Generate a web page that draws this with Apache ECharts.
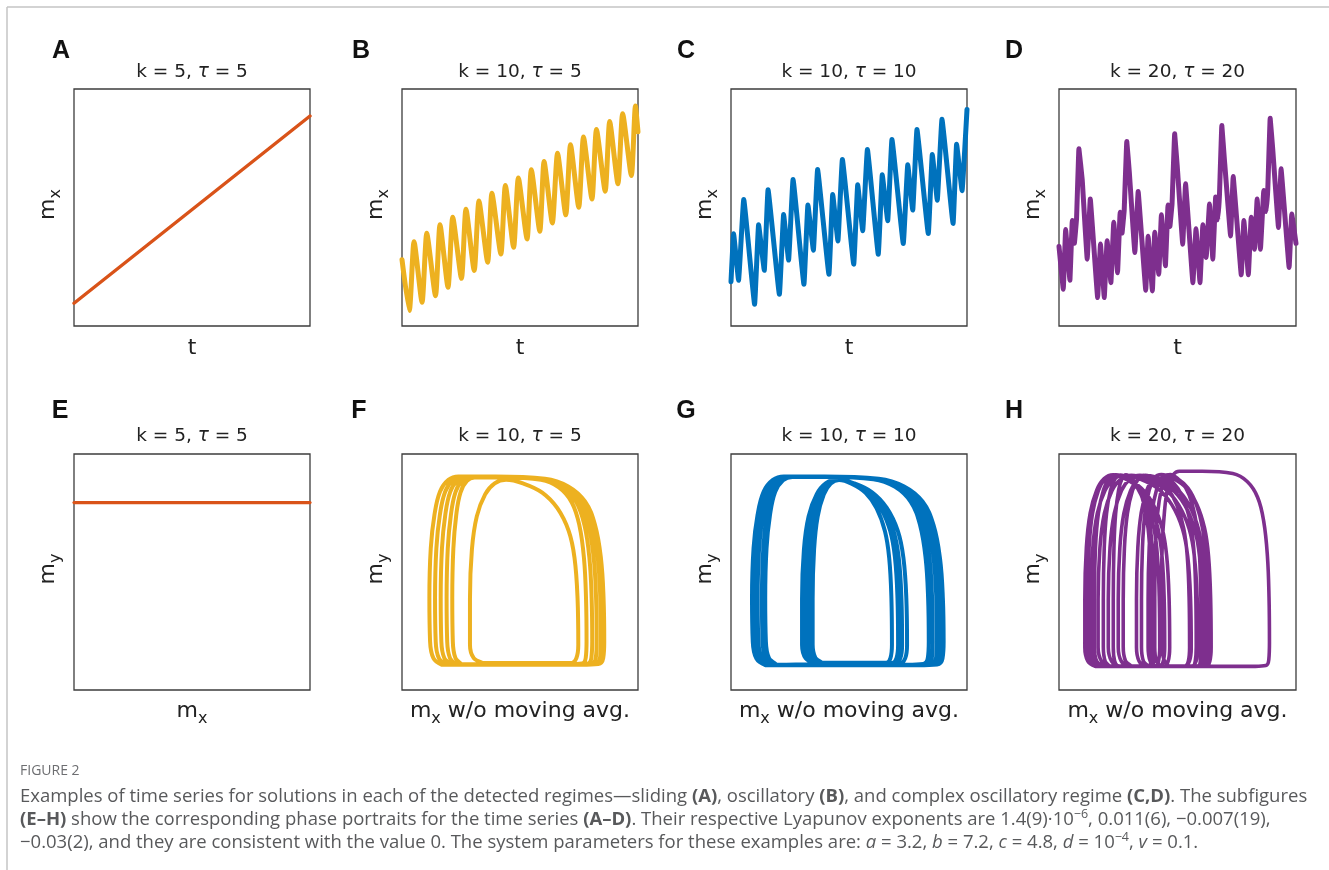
<!DOCTYPE html>
<html><head><meta charset="utf-8">
<script src="https://cdn.jsdelivr.net/npm/echarts@6/dist/echarts.min.js"></script>
<style>html,body{margin:0;padding:0;background:#fff}#c{width:1329px;height:870px}</style>
</head><body><div id="c"></div><script>
// ---------- DATA (arbitrary 0-100 units per panel) ----------
const A_t  = [0, 100];
const A_mx = [9.6, 88.6];

const B_t  = [0,3.1,5.1,8.5,10.5,14.2,16.1,19.5,21.5,25.2,27.1,30.6,32.6,36.3,38.1,41.9,43.8,47.3,49.3,53.0,54.8,58.4,60.2,63.7,65.9,69.4,71.4,74.9,76.9,80.5,82.4,86.1,88.0,91.5,93.5,97.2,98.9,100];
const B_mx = [28,6.5,35.6,10,39.1,12.8,42.7,16.3,45.9,20.1,49.3,23.4,52.7,26.9,56.0,30.4,59.3,33.2,62.5,36.7,65.9,40.0,69.4,43.5,72.9,46.9,76.5,50.1,79.7,53.6,82.9,56.9,86.3,60.0,89.6,63.5,92.8,82];

const C_t  = [0,1.1,3.2,5.4,10.0,11.7,14.1,15.7,20.5,22.3,24.4,26.3,30.9,32.6,34.9,36.7,41.5,43.1,45.3,47.2,52.0,53.7,55.8,57.8,62.4,64.1,66.4,68.2,73.0,74.9,77.0,78.8,83.6,85.3,87.4,89.4,94.1,95.6,97.9,100];
const C_mx = [18.7,38.9,19.3,53.4,9.2,42.7,23.5,57.5,13.4,47.0,27.8,61.8,17.6,51.1,32.0,66.0,21.8,55.5,35.9,70.3,26.1,59.6,40.2,74.5,30.3,63.8,44.4,78.7,34.8,68.0,48.9,82.9,39.0,72.4,53.1,87.2,43.3,76.7,57.1,91.4];

const D_t  = [0,1.8,2.8,4.6,5.6,6.5,7.4,8.4,9.8,11.9,13.2,16.3,17.5,19.1,20.3,21.9,23.1,24.7,25.8,26.6,27.5,28.6,29.7,32.0,33.4,36.6,37.6,39.4,40.4,42.1,43.2,44.9,46.0,46.8,47.7,48.8,49.9,52.2,53.4,56.5,57.8,59.5,60.7,62.1,63.5,64.9,66.1,67.0,67.7,68.7,69.8,72.4,73.5,76.9,78.0,79.9,81.1,82.5,83.6,85.0,86.4,87.4,88.1,89.1,90.2,92.6,93.7,97.1,98.2,100];
const D_mx = [33.5,15.5,40.7,19.3,44.5,34.9,45.2,74.8,61.7,28.2,53.6,12.0,34.6,12.0,36.0,18.3,43.8,22.5,48.0,39.2,48.7,77.9,64.5,31.0,56.7,15.1,37.9,14.8,39.6,21.8,46.9,25.4,51.1,42.0,51.5,81.1,67.3,34.5,60.0,18.3,41.0,18.3,42.7,28.9,51.5,28.2,54.4,44.8,55.1,84.6,70.1,38.0,63.1,21.6,44.5,21.6,45.9,32.4,53.6,32.4,57.2,48.3,57.9,87.7,74.4,41.6,66.3,24.7,47.3,34.9];

const E_mx = [0, 100];
const E_my = [79.4, 79.4];

// loop outlines (normalised within one loop's extent)
const WIDE_U = [0.07,0.023,0.004,0,0.008,0.029,0.061,0.109,0.166,0.377,0.661,0.794,0.89,0.947,0.981,0.996,1.0,0.994,0.966,0.87];
const WIDE_V = [0,0.035,0.124,0.354,0.619,0.796,0.92,0.982,1.0,1.0,0.988,0.947,0.867,0.743,0.566,0.354,0.124,0.035,0.004,0];
const ARCH_U = [0.123,0.035,0,0,0.018,0.063,0.14,0.228,0.333,0.49,0.667,0.807,0.912,0.965,0.993,1.0,0.982,0.93];
const ARCH_V = [0,0.027,0.1,0.35,0.62,0.8,0.92,0.98,1.0,0.98,0.93,0.845,0.72,0.575,0.355,0.1,0.027,0];

// per-loop extents (left, right, top, bottom) and outline type
const F_left   = [11.6,14.0,16.4,18.9,21.3,28.8];
const F_right  = [85.7,84.3,82.5,80.6,78.2,74.7];
const F_top    = [90.5,90.4,90.3,90.2,90.0,89.1];
const F_bottom = [10.7,10.7,10.8,10.8,10.9,11.4];
const F_shape  = ['w','w','w','w','w','a'];

const G_left   = [8.9,10.0,11.3,13.1,14.5,30.1,31.5,32.9,34.6];
const G_right  = [90.1,88.7,87.3,85.5,83.8,74.6,72.5,70.8,68.2];
const G_top    = [90.5,90.5,90.4,90.4,90.3,89.2,89.1,89.1,89.0];
const G_bottom = [10.5,10.5,10.6,10.6,10.7,11.3,11.4,11.4,11.5];
const G_shape  = ['w','w','w','w','w','a','a','a','a'];

const H_left   = [10.9,12.1,13.5,14.9,16.5,18.7,20.8,22.9,25.0,27.1,32.7,34.8,37.6,40.4,43.2];
const H_right  = [46.7,44.6,55.8,42.5,58.6,40.4,60.7,39.0,62.1,55.1,64.2,57.9,62.8,60.0,88.8];
const H_top    = [91.2,91.1,91.0,91.2,91.0,91.1,91.0,91.2,90.9,91.0,91.3,91.1,91.2,91.3,92.7];
const H_bottom = [10.0,10.1,10.0,10.1,10.0,10.1,10.0,10.1,10.0,10.1,10.0,10.1,10.0,10.1,10.0];
const H_shape  = ['a','a','a','a','a','a','a','a','a','a','a','a','a','a','w'];

const panelLetters = ['A','B','C','D','E','F','G','H'];
const panelTitles  = ['k = 5, {i|τ} = 5','k = 10, {i|τ} = 5','k = 10, {i|τ} = 10','k = 20, {i|τ} = 20'];
const colors = ['#D95319','#EDB120','#0072BD','#7E2F8E'];

// ---------- BUILD ----------
const zip = (a,b) => a.map((v,i)=>[v,b[i]]);
function loops(L,R,T,B,S){
  const out=[];
  for(let k=0;k<L.length;k++){
    const U = S[k]==='w'?WIDE_U:ARCH_U, V = S[k]==='w'?WIDE_V:ARCH_V;
    for(let j=0;j<=U.length;j++){
      const jj=j%U.length;
      out.push([L[k]+U[jj]*(R[k]-L[k]), B[k]+V[jj]*(T[k]-B[k])]);
    }
  }
  return out;
}
const seriesData = [
  zip(A_t,A_mx), zip(B_t,B_mx), zip(C_t,C_mx), zip(D_t,D_mx),
  zip(E_mx,E_my), loops(F_left,F_right,F_top,F_bottom,F_shape),
  loops(G_left,G_right,G_top,G_bottom,G_shape), loops(H_left,H_right,H_top,H_bottom,H_shape)
];
const lefts=[74,402,731,1059], widths=[236,236,236,237];
const tops=[89,454], heights=[237,236];
const grids=[], xAxes=[], yAxes=[], series=[];
const smooths=[0,0.2,0.08,0.05,0,0.4,0.4,0.4];
const lw=[3.4,5,5,5,3.2,4,4,3.6];
for(let i=0;i<8;i++){
  const r=Math.floor(i/4), c=i%4;
  grids.push({left:lefts[c],top:tops[r],width:widths[c],height:heights[r],show:true,borderColor:'#3c3c3c',borderWidth:1.3,backgroundColor:'rgba(0,0,0,0)',containLabel:false});
  xAxes.push({gridIndex:i,type:'value',min:0,max:100,show:false});
  yAxes.push({gridIndex:i,type:'value',min:0,max:100,show:false});
  series.push({type:'line',xAxisIndex:i,yAxisIndex:i,data:seriesData[i],symbol:'none',showSymbol:false,
    smooth:smooths[i],silent:true,animation:false,
    lineStyle:{color:colors[c],width:lw[i],cap:'round',join:'round'}});
}
const FF="'DejaVu Sans', sans-serif";
const g=[];
// frame
g.push({type:'line',shape:{x1:7,y1:7,x2:1329,y2:7},style:{stroke:'#c4c4c4',lineWidth:1.5}});
g.push({type:'line',shape:{x1:7,y1:7,x2:7,y2:870},style:{stroke:'#c4c4c4',lineWidth:1.5}});
const letterX=[[61,361,686,1014],[60,359,686,1014]], letterY=[51,411];
const titleY=[72,436], xlabY=[348,711];
const LS=22;
const richLab={m:{fontSize:LS,fontFamily:FF,fill:'#222'},s:{fontSize:16,fontFamily:FF,fill:'#222',padding:[15,0,0,0]}};
for(let i=0;i<8;i++){
  const r=Math.floor(i/4), c=i%4;
  const cx=lefts[c]+widths[c]/2;
  g.push({type:'text',x:letterX[r][c],y:letterY[r],style:{text:panelLetters[i],fontSize:25,fontWeight:'bold',fontFamily:"'Liberation Sans', Arial, sans-serif",fill:'#111',align:'center',verticalAlign:'middle',textAlign:'center',textVerticalAlign:'middle'}});
  g.push({type:'text',x:cx,y:titleY[r],style:{text:panelTitles[c],fontSize:18.5,fontFamily:FF,fill:'#222',align:'center',verticalAlign:'middle',textAlign:'center',textVerticalAlign:'middle',
    rich:{i:{fontSize:18.5,fontFamily:FF,fontStyle:'italic',fill:'#222'}}}});
  let xl = r===0 ? 't' : (c===0 ? '{m|m}{s|x}' : '{m|m}{s|x}{m| w/o moving avg.}');
  g.push({type:'text',x:cx,y:xlabY[r],style:{text:xl,fontSize:LS,fontFamily:FF,fill:'#222',align:'center',verticalAlign:'middle',textAlign:'center',textVerticalAlign:'middle',rich:richLab}});
  const yl = r===0 ? '{m|m}{s|x}' : '{m|m}{s|y}';
  g.push({type:'text',x:lefts[c]-26,y:tops[r]+heights[r]/2-3,rotation:Math.PI/2,style:{text:yl,fontSize:LS,fontFamily:FF,fill:'#222',align:'center',verticalAlign:'middle',textAlign:'center',textVerticalAlign:'middle',rich:richLab}});
}
// caption
const CF="'Open Sans', 'Noto Sans', sans-serif", CC='#58595b', CS=18.5;
const capRich={b:{fontSize:CS,fontFamily:CF,fontWeight:'bold',fill:CC},i:{fontSize:CS,fontFamily:CF,fontStyle:'italic',fill:CC},
  sup:{fontSize:12.5,fontFamily:CF,fill:CC,padding:[0,0,11,0]}};
g.push({type:'text',x:20,y:771,style:{text:'FIGURE 2',fontSize:14,fontFamily:CF,fill:'#6d6e71',align:'left',verticalAlign:'middle',textAlign:'left',textVerticalAlign:'middle'}});
const capLines=[
 'Examples of time series for solutions in each of the detected regimes—sliding {b|(A)}, oscillatory {b|(B)}, and complex oscillatory regime {b|(C,D)}. The subfigures',
 '{b|(E–H)} show the corresponding phase portraits for the time series {b|(A–D)}. Their respective Lyapunov exponents are 1.4(9)·10{sup|−6}, 0.011(6), −0.007(19),',
 '−0.03(2), and they are consistent with the value 0. The system parameters for these examples are: {i|a} = 3.2, {i|b} = 7.2, {i|c} = 4.8, {i|d} = 10{sup|−4}, {i|v} = 0.1.'
];
capLines.forEach((t,k)=>g.push({type:'text',x:20,y:797+k*23,style:{text:t,fontSize:CS,fontFamily:CF,fill:CC,align:'left',verticalAlign:'middle',textAlign:'left',textVerticalAlign:'middle',rich:capRich}}));

const chart=echarts.init(document.getElementById('c'),null,{renderer:'canvas'});
chart.setOption({animation:false,backgroundColor:'#fff',grid:grids,xAxis:xAxes,yAxis:yAxes,series:series,graphic:g});
</script></body></html>
